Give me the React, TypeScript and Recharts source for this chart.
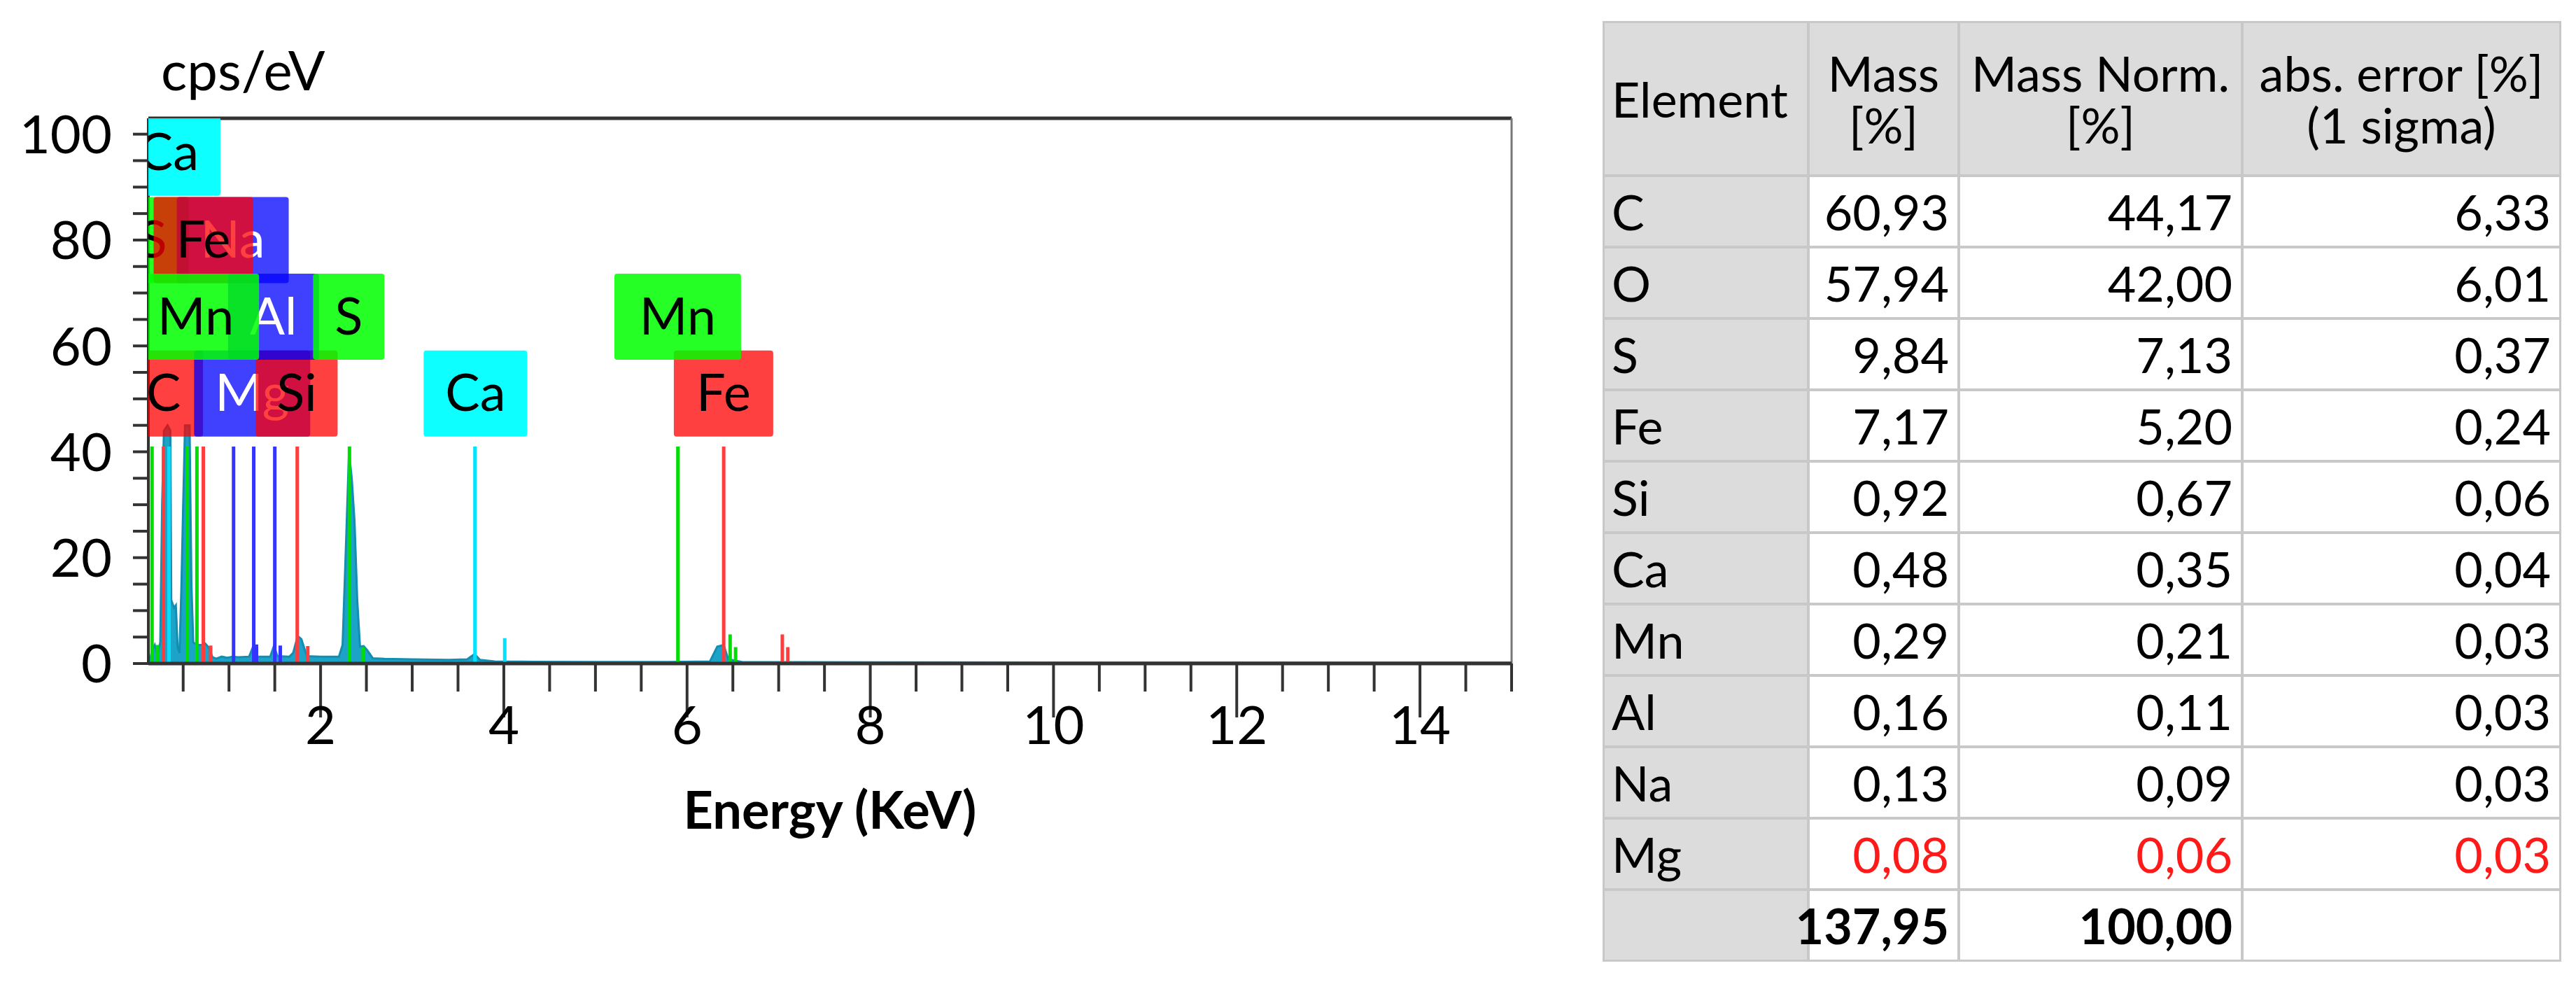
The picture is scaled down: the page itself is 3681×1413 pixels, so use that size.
import { ComposedChart, Area, Scatter, XAxis, YAxis, ReferenceLine } from "recharts";

// EDS spectrum trace: energy (keV) / intensity (cps/eV)
const energy = [
  0.12, 0.14, 0.16, 0.19, 0.22, 0.25, 0.27, 0.29, 0.33, 0.36, 0.37, 0.4, 0.42, 0.44, 0.46, 0.48,
  0.5, 0.52, 0.57, 0.59, 0.61, 0.65, 0.7, 0.74, 0.78, 0.82, 0.86, 0.92, 0.98, 1.04, 1.1, 1.22,
  1.27, 1.31, 1.45, 1.49, 1.53, 1.66, 1.7, 1.75, 1.79, 1.85, 2.0, 2.2, 2.24, 2.28, 2.31, 2.34,
  2.37, 2.4, 2.43, 2.47, 2.51, 2.57, 2.7, 3.0, 3.4, 3.6, 3.68, 3.74, 3.9, 4.2, 5.0, 5.8,
  6.25, 6.33, 6.4, 6.45, 6.6, 7.2, 10, 15,
];
const cps = [
  0.3, 0.8, 2.5, 3.5, 1.5, 4, 30, 44, 45, 44, 12, 10.5, 11, 3, 2, 14,
  30, 45, 45, 15, 4, 3.5, 3.5, 3.8, 3, 1.2, 0.9, 1.3, 1.1, 1.3, 1.2, 1.3,
  3.5, 1.3, 1.3, 3.3, 1.4, 1.3, 2.0, 5.2, 4.6, 1.4, 1.3, 1.3, 3.5, 24, 40, 35,
  27, 12, 3.2, 3.3, 2.5, 1.0, 0.9, 0.8, 0.7, 0.8, 1.8, 0.7, 0.4, 0.35, 0.3, 0.3,
  0.4, 3.2, 3.5, 0.8, 0.3, 0.25, 0.2, 0.2,
];

// element marker lines (main lines first, then the short secondary ones)
const markerEl = ["S", "C", "Ca", "Mn", "Mn", "Fe", "Na", "Mg", "Al", "Si", "S", "Ca", "Mn", "Fe",
  "S", "Fe", "Mg", "Al", "Si", "S", "Ca", "Mn", "Mn", "Fe", "Fe"];
const markerKeV = [0.16, 0.285, 0.345, 0.545, 0.65, 0.72, 1.05, 1.27, 1.5, 1.745, 2.315, 3.685, 5.9, 6.4,
  0.22, 0.8, 1.3, 1.56, 1.86, 2.465, 4.01, 6.47, 6.53, 7.04, 7.1];
const markerTop = [41, 41, 41, 41, 41, 41, 41, 41, 41, 41, 41, 41, 41, 41,
  3.5, 3.4, 3.6, 3.4, 3.3, 3.1, 4.8, 5.5, 3.1, 5.5, 3.1];

// element tags, in drawing order (later ones sit on top)
const tagEl = ["Ca", "C", "Mg", "Si", "Ca", "Fe", "S", "Na", "Fe", "Al", "S", "Mn", "Mn"];
const tagKeV = [0.341, 0.285, 1.253, 1.739, 3.69, 6.398, 0.17, 1.041, 0.72, 1.486, 2.307, 0.637, 5.898];
const tagLevel = [96.5, 51, 51, 51, 51, 51, 80, 80, 80, 65.5, 65.5, 65.5, 65.5];

// quantification table
const elements = ["C", "O", "S", "Fe", "Si", "Ca", "Mn", "Al", "Na", "Mg"];
const massPct = [60.93, 57.94, 9.84, 7.17, 0.92, 0.48, 0.29, 0.16, 0.13, 0.08];
const massNorm = [44.17, 42.0, 7.13, 5.2, 0.67, 0.35, 0.21, 0.11, 0.09, 0.06];
const absErr = [6.33, 6.01, 0.37, 0.24, 0.06, 0.04, 0.03, 0.03, 0.03, 0.03];
const totalMass = 137.95;
const totalNorm = 100.0;
const flagged = ["Mg"];

const spectrum = energy.map((e, i) => ({ e, c: cps[i] }));
const tags = tagEl.map((el, i) => ({ el, e: tagKeV[i], lv: tagLevel[i] }));

const xTicks = Array.from({ length: 30 }, (_, i) => (i + 1) * 0.5);
const yTicks = Array.from({ length: 21 }, (_, i) => i * 5);

const BOX: Record<string, { fill: string; op: number; text: string }> = {
  red: { fill: "#ff0000", op: 0.75, text: "#000" },
  blue: { fill: "#0000ff", op: 0.75, text: "#fff" },
  green: { fill: "#00ff00", op: 0.85, text: "#000" },
  cyan: { fill: "#00ffff", op: 0.95, text: "#000" },
};
const EL_COLOR: Record<string, string> = {
  C: "red", Fe: "red", Si: "red", Na: "blue", Mg: "blue", Al: "blue", S: "green", Mn: "green", Ca: "cyan",
};
const LINE_COLOR: Record<string, string> = {
  red: "#ff3d3d", blue: "#3434ff", green: "#00dd00", cyan: "#00e2ff",
};
const TAG_W: Record<string, number> = {
  Ca: 148, C: 113, Mg: 166, Si: 117, Fe: 142, S: 102, Na: 160, Al: 130, Mn: 181,
};
const TAG_H = 123;
const AXIS = "#333";

const fmt = (v: number) => v.toFixed(2).replace(".", ",");

function XTick(props: { x?: number; y?: number; payload?: { value: number } }) {
  const { x = 0, y = 0, payload } = props;
  const v = payload ? payload.value : 0;
  const major = v % 2 === 0;
  return (
    <g>
      <line x1={x} x2={x} y1={y} y2={y + (major ? 77 : 40)} stroke={AXIS} strokeWidth={4} />
      {major && (
        <text x={x} y={y + 115} textAnchor="middle" fontSize={76} fill="#000">{v}</text>
      )}
    </g>
  );
}

function YTick(props: { x?: number; y?: number; payload?: { value: number } }) {
  const { x = 0, y = 0, payload } = props;
  const v = payload ? payload.value : 0;
  return (
    <g>
      <line x1={x - 22} x2={x} y1={y} y2={y} stroke={AXIS} strokeWidth={4} />
      {v % 20 === 0 && (
        <text x={x - 52} y={y} dy="0.36em" textAnchor="end" fontSize={76} fill="#000">{v}</text>
      )}
    </g>
  );
}

// coloured element tag centred on its line energy
function ElementTag(props: { cx?: number; cy?: number; payload?: { el: string } }) {
  const { cx = 0, cy = 0, payload } = props;
  const el = payload ? payload.el : "";
  const s = BOX[EL_COLOR[el]];
  const w = TAG_W[el];
  return (
    <g>
      <rect x={cx - w / 2} y={cy - TAG_H / 2} width={w} height={TAG_H} rx={4}
        fill={s.fill} fillOpacity={s.op} />
      <text x={cx} y={cy} dy="0.34em" textAnchor="middle" fontSize={74} fill={s.text}>{el}</text>
    </g>
  );
}

function ResultTable() {
  const cell = (bg: string, extra: React.CSSProperties = {}): React.CSSProperties => ({
    background: bg, display: "flex", alignItems: "center", whiteSpace: "nowrap", ...extra,
  });
  const grey = "#dcdcdc";
  const num = { justifyContent: "flex-end", paddingRight: 12 };
  const head = { justifyContent: "center", textAlign: "center" as const, lineHeight: "74px" };
  return (
    <div style={{
      position: "absolute", left: 2290, top: 30, display: "grid",
      gridTemplateColumns: "289px 211px 401px 451px",
      gridTemplateRows: "216px repeat(11, 98px)",
      gap: 4, padding: 3, background: "#c8c8c8", fontSize: 70, color: "#000",
    }}>
      <div style={cell(grey, { paddingLeft: 10 })}>Element</div>
      <div style={cell(grey, head)}>Mass<br />[%]</div>
      <div style={cell(grey, head)}>Mass Norm.<br />[%]</div>
      <div style={cell(grey, head)}>abs. error [%]<br />(1 sigma)</div>
      {elements.map((el, i) => {
        const c = flagged.includes(el) ? "#ff1a1a" : "#000";
        return [
          <div key={el + "e"} style={cell(grey, { paddingLeft: 10 })}>{el}</div>,
          <div key={el + "m"} style={cell("#fff", { ...num, color: c })}>{fmt(massPct[i])}</div>,
          <div key={el + "n"} style={cell("#fff", { ...num, color: c })}>{fmt(massNorm[i])}</div>,
          <div key={el + "a"} style={cell("#fff", { ...num, color: c })}>{fmt(absErr[i])}</div>,
        ];
      })}
      <div style={cell(grey)} />
      <div style={cell("#fff", { ...num, fontWeight: 700 })}>{fmt(totalMass)}</div>
      <div style={cell("#fff", { ...num, fontWeight: 700 })}>{fmt(totalNorm)}</div>
      <div style={cell("#fff")} />
    </div>
  );
}

export default function App() {
  return (
    <div style={{
      position: "relative", width: 3681, height: 1413, margin: -8, background: "#fff",
      overflow: "hidden", fontFamily: "Lato, 'Open Sans', sans-serif",
    }}>
      <div style={{ position: "absolute", left: 230, top: 60, fontSize: 78, lineHeight: 1 }}>cps/eV</div>
      <div style={{ position: "absolute", left: 0, top: 0 }}>
        <ComposedChart width={2300} height={1413} data={spectrum}
          margin={{ top: 169, right: 140, bottom: 0, left: 0 }}>
          <XAxis dataKey="e" type="number" domain={[0.12, 15]} allowDataOverflow ticks={xTicks}
            interval={0} tickSize={0} tickMargin={0} tick={<XTick />} height={465}
            axisLine={{ stroke: AXIS, strokeWidth: 5 }}
            label={{ value: "Energy (KeV)", position: "insideTop", offset: 183, fontSize: 74, fontWeight: 700, fill: "#000" }} />
          <YAxis type="number" domain={[0, 103]} allowDataOverflow ticks={yTicks} interval={0}
            tickSize={0} tickMargin={0} tick={<YTick />} width={212}
            axisLine={{ stroke: AXIS, strokeWidth: 4 }} />
          <Area type="linear" dataKey="c" fill="#1ba4c7" fillOpacity={1} stroke="#138db0"
            strokeWidth={3} isAnimationActive={false} />
          {markerEl.map((el, i) => (
            <ReferenceLine key={"m" + i}
              segment={[{ x: markerKeV[i], y: 0 }, { x: markerKeV[i], y: markerTop[i] }]}
              stroke={LINE_COLOR[EL_COLOR[el]]} strokeWidth={5} ifOverflow="visible" />
          ))}
          <Scatter data={tags} dataKey="lv" shape={<ElementTag />} isAnimationActive={false} />
          {/* plot frame, top and right */}
          <ReferenceLine y={103} stroke={AXIS} strokeWidth={5} ifOverflow="visible" />
          <ReferenceLine x={15} stroke="#777" strokeWidth={3} ifOverflow="visible" />
        </ComposedChart>
      </div>
      <ResultTable />
    </div>
  );
}
